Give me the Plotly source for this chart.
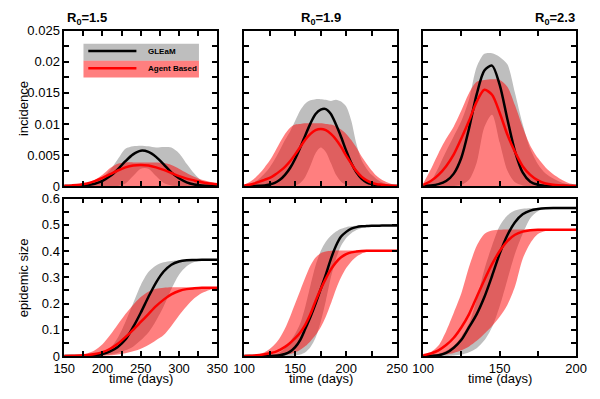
import plotly.graph_objects as go

# ---------------- data ----------------
t1 = [150, 160, 170, 180, 190, 200, 210, 220, 230, 240, 250, 260, 270, 280, 290, 300, 310, 320, 330, 340, 350]
t2 = [100, 105, 110, 115, 120, 125, 130, 135, 140, 145, 150, 155, 160, 165, 170, 175, 180, 185, 190, 195,
      200, 205, 210, 215, 220, 225, 230, 235, 240, 245, 250]
t3 = [100, 105, 110, 115, 120, 125, 130, 135, 140, 145, 150, 155, 160, 165, 170, 175, 180, 185, 190, 195, 200]

# R0 = 1.5 incidence
inc1_gleam_mean = [0.0, 0.00002, 0.00005, 0.00015, 0.00038, 0.00083, 0.0016, 0.0027, 0.0040, 0.0051, 0.0057,
                   0.0055, 0.0047, 0.0035, 0.0022, 0.00125, 0.0006, 0.00026, 0.0001, 0.00004, 0.00001]
inc1_gleam_hi = [0.0, 0.00002, 0.00005, 0.0002, 0.0006, 0.0014, 0.0026, 0.0043, 0.0060, 0.0064, 0.0065,
                 0.0064, 0.0062, 0.0063, 0.0062, 0.0053, 0.0036, 0.0020, 0.0008, 0.0002, 0.00005]
inc1_gleam_lo = [0, 0, 0, 0, 0, 0, 0, 0, 0.0004, 0.0016, 0.0028, 0.0028, 0.0016, 0.0005, 0.0001, 0, 0, 0, 0, 0, 0]
inc1_ab_mean = [0.00003, 0.0001, 0.0002, 0.0004, 0.0008, 0.0013, 0.0019, 0.0025, 0.0030, 0.0033, 0.0034,
                0.0033, 0.0030, 0.0026, 0.0021, 0.0016, 0.0012, 0.0009, 0.0006, 0.0004, 0.0003]
inc1_ab_hi = [0.00005, 0.0001, 0.0002, 0.0005, 0.0010, 0.0018, 0.0029, 0.0036, 0.0038, 0.0038, 0.0038,
              0.0038, 0.0038, 0.0037, 0.0034, 0.0028, 0.0021, 0.0015, 0.0010, 0.0007, 0.0004]
inc1_ab_lo = [0.0] * 21

# R0 = 1.9 incidence
inc2_gleam_mean = [0.0, 0.00001, 0.00002, 0.00005, 0.0001, 0.00025, 0.0005, 0.001, 0.0018, 0.0029, 0.0044,
                   0.0062, 0.0082, 0.0101, 0.0116, 0.0123, 0.0124, 0.0116, 0.0099, 0.0079, 0.0057, 0.0037,
                   0.0022, 0.0012, 0.0006, 0.0003, 0.00012, 0.00005, 0.00002, 0.00001, 0.0]
inc2_gleam_hi = [0.0, 0.0002, 0.0006, 0.0012, 0.0020, 0.0030, 0.0043, 0.0058, 0.0074, 0.0088, 0.0105,
                 0.0122, 0.0133, 0.0138, 0.0140, 0.0140, 0.0139, 0.0137, 0.0139, 0.0136, 0.0128, 0.0105,
                 0.0068, 0.0042, 0.0028, 0.0018, 0.0011, 0.0006, 0.0003, 0.0001, 0.0]
inc2_gleam_lo = [0, 0, 0, 0, 0, 0, 0, 0, 0, 0, 0.0001, 0.0005, 0.0015, 0.0033, 0.0053, 0.0062, 0.0055,
                 0.0037, 0.0018, 0.0007, 0.0002, 0, 0, 0, 0, 0, 0, 0, 0, 0, 0]
inc2_ab_mean = [0.0001, 0.0002, 0.0004, 0.0007, 0.0010, 0.0013, 0.0018, 0.0024, 0.0031, 0.0040, 0.0051,
                0.0063, 0.0075, 0.0084, 0.0090, 0.0092, 0.0090, 0.0084, 0.0075, 0.0063, 0.0049, 0.0036,
                0.0024, 0.0015, 0.0009, 0.0005, 0.0003, 0.0002, 0.0001, 0.00005, 0.00002]
inc2_ab_hi = [0.0002, 0.0006, 0.0012, 0.0020, 0.0030, 0.0041, 0.0055, 0.0070, 0.0084, 0.0094, 0.0099,
              0.0100, 0.0101, 0.0101, 0.0101, 0.0101, 0.0100, 0.0099, 0.0096, 0.0091, 0.0084, 0.0074,
              0.0062, 0.0048, 0.0036, 0.0025, 0.0016, 0.0010, 0.0006, 0.0003, 0.0002]
inc2_ab_lo = [0.0] * 31

# R0 = 2.3 incidence
inc3_gleam_mean = [0.00005, 0.0001, 0.0003, 0.0008, 0.0020, 0.0046, 0.0093, 0.0148, 0.0186, 0.0194, 0.0163,
                   0.0108, 0.0056, 0.0022, 0.0007, 0.0002, 0.00005, 0, 0, 0, 0]
inc3_gleam_hi = [0.0, 0.0008, 0.0030, 0.0056, 0.0080, 0.0105, 0.0140, 0.0192, 0.0213, 0.0214, 0.0208,
                 0.0196, 0.0150, 0.0100, 0.0060, 0.0035, 0.0020, 0.0012, 0.0006, 0.0002, 0.0]
inc3_gleam_lo = [0, 0, 0, 0, 0, 0.0002, 0.0010, 0.0038, 0.0095, 0.0115, 0.0070, 0.0025, 0.0006, 0.0001,
                 0, 0, 0, 0, 0, 0, 0]
inc3_ab_mean = [0.0002, 0.0008, 0.0018, 0.0032, 0.0051, 0.0077, 0.0105, 0.0136, 0.0155, 0.0147, 0.0118,
                0.0083, 0.0055, 0.0032, 0.0018, 0.0009, 0.0004, 0.0002, 0.0001, 0, 0]
inc3_ab_hi = [0.0004, 0.0027, 0.0053, 0.0076, 0.0096, 0.0122, 0.0150, 0.0168, 0.0171, 0.0172, 0.0171,
              0.0160, 0.0130, 0.0095, 0.0065, 0.0045, 0.0030, 0.0019, 0.0011, 0.0005, 0.0002]
inc3_ab_lo = [0.0] * 21

# R0 = 1.5 epidemic size
size1_gleam_mean = [0, 0, 0, 0.001, 0.003, 0.008, 0.018, 0.035, 0.063, 0.11, 0.165, 0.225, 0.28, 0.322,
                    0.348, 0.36, 0.365, 0.366, 0.367, 0.367, 0.367]
size1_gleam_hi = [0, 0, 0.0005, 0.001, 0.004, 0.012, 0.03, 0.07, 0.13, 0.2, 0.27, 0.32, 0.345, 0.357,
                  0.362, 0.365, 0.366, 0.367, 0.367, 0.367, 0.367]
size1_gleam_lo = [0, 0, 0, 0, 0, 0.002, 0.006, 0.012, 0.022, 0.036, 0.06, 0.09, 0.135, 0.19, 0.255, 0.31,
                  0.342, 0.358, 0.364, 0.366, 0.366]
size1_ab_mean = [0, 0.001, 0.002, 0.004, 0.008, 0.015, 0.028, 0.047, 0.072, 0.10, 0.13, 0.16, 0.19, 0.215,
                 0.235, 0.248, 0.255, 0.258, 0.26, 0.26, 0.26]
size1_ab_hi = [0.001, 0.002, 0.004, 0.01, 0.022, 0.045, 0.08, 0.12, 0.16, 0.195, 0.225, 0.245, 0.256, 0.26,
               0.262, 0.262, 0.262, 0.262, 0.262, 0.262, 0.262]
size1_ab_lo = [0, 0, 0, 0, 0, 0.001, 0.003, 0.006, 0.011, 0.018, 0.028, 0.042, 0.06, 0.08, 0.115, 0.155,
               0.19, 0.22, 0.24, 0.252, 0.258]

# R0 = 1.9 epidemic size
size2_gleam_mean = [0, 0, 0, 0, 0.0002, 0.0006, 0.0015, 0.0035, 0.008, 0.017, 0.034, 0.062, 0.105, 0.15,
                    0.20, 0.255, 0.31, 0.37, 0.42, 0.455, 0.473, 0.485, 0.491, 0.494, 0.495, 0.496, 0.496,
                    0.497, 0.497, 0.497, 0.497]
size2_gleam_hi = [0, 0, 0, 0.0005, 0.001, 0.003, 0.007, 0.015, 0.03, 0.055, 0.085, 0.125, 0.19, 0.27, 0.345,
                  0.4, 0.435, 0.458, 0.474, 0.485, 0.491, 0.494, 0.496, 0.497, 0.497, 0.497, 0.497, 0.497,
                  0.497, 0.497, 0.497]
size2_gleam_lo = [0, 0, 0, 0, 0, 0, 0, 0, 0, 0, 0.002, 0.006, 0.015, 0.035, 0.07, 0.13, 0.21, 0.30, 0.37,
                  0.42, 0.45, 0.468, 0.48, 0.488, 0.493, 0.495, 0.496, 0.496, 0.496, 0.496, 0.496]
size2_ab_mean = [0.0005, 0.001, 0.002, 0.004, 0.007, 0.011, 0.015, 0.024, 0.035, 0.05, 0.068, 0.09, 0.12,
                 0.16, 0.21, 0.255, 0.295, 0.33, 0.357, 0.376, 0.388, 0.395, 0.398, 0.40, 0.401, 0.401,
                 0.401, 0.401, 0.401, 0.401, 0.401]
size2_ab_hi = [0.001, 0.002, 0.004, 0.008, 0.015, 0.027, 0.045, 0.07, 0.105, 0.15, 0.2, 0.25, 0.3, 0.345,
               0.375, 0.392, 0.398, 0.401, 0.402, 0.402, 0.402, 0.402, 0.402, 0.402, 0.402, 0.402, 0.402,
               0.402, 0.402, 0.402, 0.402]
size2_ab_lo = [0, 0, 0, 0, 0.0005, 0.001, 0.0015, 0.002, 0.004, 0.008, 0.014, 0.024, 0.038, 0.057, 0.08,
               0.11, 0.15, 0.2, 0.255, 0.30, 0.335, 0.36, 0.378, 0.39, 0.396, 0.399, 0.401, 0.401, 0.401,
               0.401, 0.401]

# R0 = 2.3 epidemic size
size3_gleam_mean = [0.0005, 0.001, 0.003, 0.012, 0.032, 0.062, 0.11, 0.16, 0.225, 0.305, 0.39, 0.46, 0.51,
                    0.54, 0.554, 0.56, 0.563, 0.564, 0.564, 0.564, 0.564]
size3_gleam_hi = [0.001, 0.003, 0.008, 0.02, 0.04, 0.075, 0.125, 0.215, 0.33, 0.42, 0.495, 0.535, 0.554,
                  0.561, 0.563, 0.564, 0.564, 0.564, 0.564, 0.564, 0.564]
size3_gleam_lo = [0, 0, 0, 0, 0.002, 0.006, 0.015, 0.03, 0.06, 0.11, 0.19, 0.29, 0.39, 0.465, 0.525, 0.552,
                  0.561, 0.563, 0.564, 0.564, 0.564]
size3_ab_mean = [0.003, 0.01, 0.022, 0.042, 0.07, 0.11, 0.16, 0.225, 0.29, 0.35, 0.4, 0.438, 0.462, 0.474,
                 0.479, 0.481, 0.481, 0.481, 0.481, 0.481, 0.481]
size3_ab_hi = [0.004, 0.015, 0.04, 0.095, 0.165, 0.24, 0.34, 0.42, 0.465, 0.478, 0.481, 0.482, 0.482, 0.482,
               0.482, 0.482, 0.482, 0.482, 0.482, 0.482, 0.482]
size3_ab_lo = [0, 0.001, 0.003, 0.006, 0.012, 0.022, 0.037, 0.058, 0.085, 0.115, 0.15, 0.195, 0.265, 0.37,
               0.43, 0.465, 0.476, 0.48, 0.481, 0.481, 0.481]

titles = ["R<sub>0</sub>=1.5", "R<sub>0</sub>=1.9", "R<sub>0</sub>=2.3"]
legend_names = ["GLEaM", "Agent Based"]
x_ranges = [[150, 350], [100, 250], [100, 200]]
inc_ticks = [0, 0.0025, 0.005, 0.0075, 0.01, 0.0125, 0.015, 0.0175, 0.02, 0.0225, 0.025]
inc_labels = ["0", "", "0.005", "", "0.01", "", "0.015", "", "0.02", "", "0.025"]
size_ticks = [0, 0.05, 0.1, 0.15, 0.2, 0.25, 0.3, 0.35, 0.4, 0.45, 0.5, 0.55, 0.6]
size_labels = ["0", "", "0.1", "", "0.2", "", "0.3", "", "0.4", "", "0.5", "", "0.6"]

# ---------------- styling ----------------
# the page body keeps an 8px margin, so the figure occupies 584x383 starting at (8, 8)
OFF = 8
W, H = 584, 383
FONT = "Liberation Sans, Arial, Helvetica, sans-serif"
GRAY = "rgb(190,190,190)"
RED_FILL = "rgba(255,0,0,0.5)"

# target positions in window pixels
px_x = [(55, 214), (242, 401), (428, 587)]
px_top = (24.5, 186)
px_bot = (199, 363)


def fx(p):
    return (p - OFF) / W


def fy(p):
    return 1 - (p - OFF) / H


def xd(a, b):
    return [fx(a), fx(b)]


def yd(top, bot):
    return [fy(bot), fy(top)]


fig = go.Figure()

panels = [
    (t1, inc1_gleam_lo, inc1_gleam_hi, inc1_ab_lo, inc1_ab_hi, inc1_gleam_mean, inc1_ab_mean, "x", "y"),
    (t2, inc2_gleam_lo, inc2_gleam_hi, inc2_ab_lo, inc2_ab_hi, inc2_gleam_mean, inc2_ab_mean, "x2", "y2"),
    (t3, inc3_gleam_lo, inc3_gleam_hi, inc3_ab_lo, inc3_ab_hi, inc3_gleam_mean, inc3_ab_mean, "x3", "y3"),
    (t1, size1_gleam_lo, size1_gleam_hi, size1_ab_lo, size1_ab_hi, size1_gleam_mean, size1_ab_mean, "x4", "y4"),
    (t2, size2_gleam_lo, size2_gleam_hi, size2_ab_lo, size2_ab_hi, size2_gleam_mean, size2_ab_mean, "x5", "y5"),
    (t3, size3_gleam_lo, size3_gleam_hi, size3_ab_lo, size3_ab_hi, size3_gleam_mean, size3_ab_mean, "x6", "y6"),
]

SM = 0.8
for (t, glo, ghi, alo, ahi, gm, am, xa, ya) in panels:
    common = dict(x=t, xaxis=xa, yaxis=ya, mode="lines", showlegend=False, hoverinfo="skip")
    fig.add_trace(go.Scatter(y=glo, line=dict(width=0, shape="spline", smoothing=SM), **common))
    fig.add_trace(go.Scatter(y=ghi, line=dict(width=0, shape="spline", smoothing=SM),
                             fill="tonexty", fillcolor=GRAY, **common))
    fig.add_trace(go.Scatter(y=alo, line=dict(width=0, shape="spline", smoothing=SM), **common))
    fig.add_trace(go.Scatter(y=ahi, line=dict(width=0, shape="spline", smoothing=SM),
                             fill="tonexty", fillcolor=RED_FILL, **common))
    fig.add_trace(go.Scatter(y=gm, line=dict(color="black", width=2.5, shape="spline", smoothing=SM), **common))
    fig.add_trace(go.Scatter(y=am, line=dict(color="red", width=2.5, shape="spline", smoothing=SM), **common))

axis_common = dict(showline=True, linecolor="black", linewidth=1.5, mirror="ticks", ticks="inside",
                   ticklen=5, tickwidth=1.5, tickcolor="black", showgrid=False, zeroline=False,
                   tickfont=dict(family=FONT, size=13, color="black"))

layout = dict(width=W, height=H, autosize=False, margin=dict(l=0, r=0, t=0, b=0, pad=0),
              paper_bgcolor="white", plot_bgcolor="white", showlegend=False)

for i in range(6):
    col = i % 3
    row = i // 3
    xr = x_ranges[col]
    xt = list(range(xr[0], xr[1] + 1, 25))
    xl = [str(v) if (v - xr[0]) % 50 == 0 else "" for v in xt]
    xkey = "xaxis" if i == 0 else f"xaxis{i + 1}"
    ykey = "yaxis" if i == 0 else f"yaxis{i + 1}"
    yanchor_name = "y" if i == 0 else f"y{i + 1}"
    xanchor_name = "x" if i == 0 else f"x{i + 1}"
    layout[xkey] = dict(domain=xd(*px_x[col]), range=xr, tickmode="array", tickvals=xt, ticktext=xl,
                        showticklabels=(row == 1), anchor=yanchor_name, **axis_common)
    if row == 0:
        layout[ykey] = dict(domain=yd(*px_top), range=[0, 0.025], tickmode="array", tickvals=inc_ticks,
                            ticktext=inc_labels, showticklabels=(col == 0), anchor=xanchor_name, **axis_common)
    else:
        layout[ykey] = dict(domain=yd(*px_bot), range=[0, 0.6], tickmode="array", tickvals=size_ticks,
                            ticktext=size_labels, showticklabels=(col == 0), anchor=xanchor_name, **axis_common)

fig.update_layout(**layout)


def note(text, x, y, size=13, xanchor="center", angle=0):
    return dict(text=text, x=fx(x), y=fy(y), xref="paper", yref="paper", xanchor=xanchor,
                yanchor="middle", textangle=angle, showarrow=False,
                font=dict(family=FONT, size=size, color="black"))


ann = [
    note("<b>" + titles[0] + "</b>", 56, 12, xanchor="left"),
    note("<b>" + titles[1] + "</b>", 321.5, 12),
    note("<b>" + titles[2] + "</b>", 588, 12, xanchor="right"),
    note("incidence", 12, 105, angle=-90),
    note("epidemic size", 12, 281, angle=-90),
]
for (a, b) in px_x:
    ann.append(note("time (days)", (a + b) / 2, 386))
ann.append(note("<b>" + legend_names[0] + "</b>", 140, 46.5, size=8, xanchor="left"))
ann.append(note("<b>" + legend_names[1] + "</b>", 140, 64, size=8, xanchor="left"))
fig.update_layout(annotations=ann)

shapes = [
    dict(type="rect", xref="paper", yref="paper", x0=fx(75), x1=fx(195), y0=fy(55.5), y1=fy(38),
         fillcolor=GRAY, line=dict(width=0)),
    dict(type="rect", xref="paper", yref="paper", x0=fx(75), x1=fx(195), y0=fy(73), y1=fy(55.5),
         fillcolor=RED_FILL, line=dict(width=0)),
    dict(type="line", xref="paper", yref="paper", x0=fx(80), x1=fx(130), y0=fy(45.5), y1=fy(45.5),
         line=dict(color="black", width=2.5)),
    dict(type="line", xref="paper", yref="paper", x0=fx(80), x1=fx(130), y0=fy(63.5), y1=fy(63.5),
         line=dict(color="red", width=2.5)),
]
fig.update_layout(shapes=shapes)

fig.write_html("out.html", config={"responsive": False, "displayModeBar": False})
